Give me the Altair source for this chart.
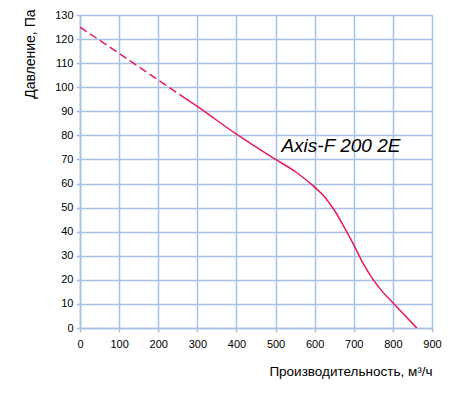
import altair as alt
import pandas as pd

# Curve
flow = [0, 100, 200, 270, 300, 400, 500, 550, 600, 625, 650, 675, 700, 725, 750, 775, 800, 861]
pressure = [125, 114, 103, 95.3, 92, 80.5, 70, 65, 58.5, 54.5, 49, 42, 34.5, 26.5, 20, 14.8, 10.5, 0]
dash_end = 270  # dashed part of the curve ends here

x_ticks = [0, 100, 200, 300, 400, 500, 600, 700, 800, 900]
y_ticks = [0, 10, 20, 30, 40, 50, 60, 70, 80, 90, 100, 110, 120, 130]

label_text = ["Axis-F 200 2E"]
label_x = [515]
label_y = [75.5]

rows = []
for fx, py in zip(flow, pressure):
    if fx <= dash_end:
        rows.append({"q": fx, "p": py, "seg": "dash"})
    if fx >= dash_end:
        rows.append({"q": fx, "p": py, "seg": "solid"})
df = pd.DataFrame(rows)

grid_col = "#a8c0e8"
curve_col = "#e8195a"
font = "Liberation Sans"

xs = alt.Scale(domain=[0, 900], nice=False, zero=False)
ys = alt.Scale(domain=[0, 130], nice=False, zero=False)

x_axis = alt.Axis(values=x_ticks, tickCount=30, labelOverlap=False, title="Производительность, м³/ч", grid=True,
                  gridColor=grid_col, gridWidth=1.5, domainColor=grid_col, domainWidth=1.5,
                  tickColor=grid_col, tickWidth=1.5, tickSize=4, labelFontSize=11,
                  labelFont=font, labelColor="#000", labelPadding=6, labelFlush=False,
                  titleFont=font, titleFontSize=13.5, titleFontWeight="normal", titleColor="#000",
                  titleX=352, titleY=43, titleAlign="right", titleBaseline="middle")
y_axis = alt.Axis(values=y_ticks, tickCount=30, labelOverlap=False, title="Давление, Па", grid=True,
                  gridColor=grid_col, gridWidth=1.5, domainColor=grid_col, domainWidth=1.5,
                  tickColor=grid_col, tickWidth=1.5, tickSize=4, labelFontSize=11,
                  labelFont=font, labelColor="#000", labelPadding=3, labelFlush=False,
                  titleFont=font, titleFontSize=14, titleFontWeight="normal", titleColor="#000",
                  titleX=-50, titleY=-6, titleAlign="right", titleBaseline="middle", titleAngle=270)

base = alt.Chart(df)
dashed = base.transform_filter(alt.datum.seg == "dash").mark_line(
    color=curve_col, strokeWidth=1.5, strokeDash=[8, 4], interpolate="monotone"
).encode(x=alt.X("q:Q", scale=xs, axis=x_axis), y=alt.Y("p:Q", scale=ys, axis=y_axis))
solid = base.transform_filter(alt.datum.seg == "solid").mark_line(
    color=curve_col, strokeWidth=1.5, interpolate="monotone"
).encode(x=alt.X("q:Q", scale=xs, axis=x_axis), y=alt.Y("p:Q", scale=ys, axis=y_axis))

lab_df = pd.DataFrame({"q": label_x, "p": label_y, "t": label_text})
label = alt.Chart(lab_df).mark_text(
    align="left", baseline="middle", fontSize=19, fontStyle="italic", font=font, color="#000"
).encode(x=alt.X("q:Q", scale=xs, axis=x_axis), y=alt.Y("p:Q", scale=ys, axis=y_axis), text="t:N")

chart = alt.layer(dashed, solid, label).properties(
    width=352, height=313,
    autosize=alt.AutoSizeParams(type="none"),
    padding={"left": 72, "top": 7, "right": 10, "bottom": 60},
).configure_view(stroke=None).configure(background="white")

chart.save("out.html", embed_options={"renderer": "svg", "actions": False})
